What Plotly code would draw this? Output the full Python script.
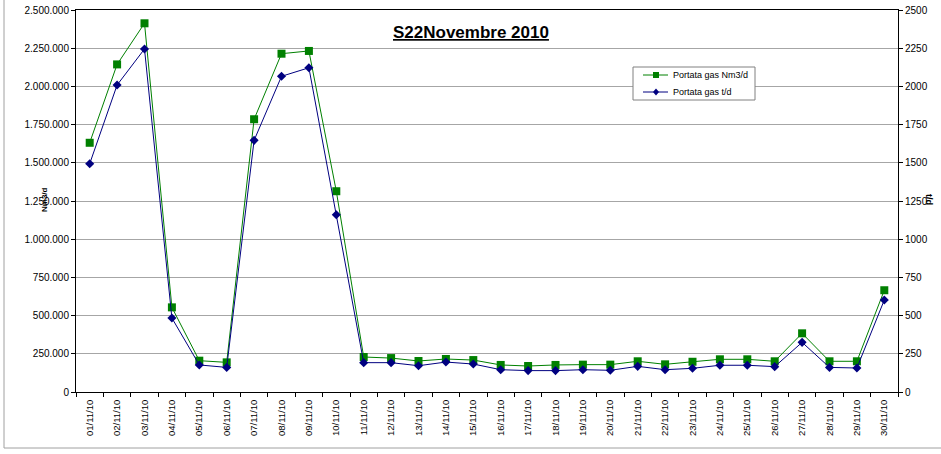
import plotly.graph_objects as go

dates = [f"{d:02d}/11/10" for d in range(1, 31)]

portata_nm3 = [1631000, 2144000, 2413000, 554000, 205000, 194000, 1785000, 2214000, 2232000, 1314000,
               229000, 222000, 203000, 216000, 209000, 177000, 170000, 177000, 179000, 179000,
               201000, 181000, 198000, 214000, 214000, 201000, 384000, 201000, 201000, 666000]

portata_td = [1494, 2009, 2245, 484, 177, 161, 1647, 2066, 2122, 1160,
              192, 192, 172, 196, 183, 146, 140, 140, 146, 142,
              168, 146, 155, 175, 175, 166, 325, 161, 157, 602]

left_ticks = [0, 250000, 500000, 750000, 1000000, 1250000, 1500000, 1750000, 2000000, 2250000, 2500000]
right_ticks = [0, 250, 500, 750, 1000, 1250, 1500, 1750, 2000, 2250, 2500]

series_names = ["Portata gas Nm3/d", "Portata gas t/d"]
series_colors = ["#008000", "#000080"]

FONT = "Liberation Sans, Arial, sans-serif"
W, H = 941, 454
L, R, T, B = 76, 43, 10, 62
pw, ph = W - L - R, H - T - B

def px_x(p):
    return (p - L) / pw

def px_y(p):
    return (H - B - p) / ph

fig = go.Figure()
fig.add_trace(go.Scatter(
    x=dates, y=portata_nm3, name=series_names[0], mode="lines+markers",
    line=dict(color=series_colors[0], width=1),
    marker=dict(symbol="square", size=8, color=series_colors[0]),
))
fig.add_trace(go.Scatter(
    x=dates, y=portata_td, name=series_names[1], mode="lines+markers", yaxis="y2",
    line=dict(color=series_colors[1], width=1),
    marker=dict(symbol="diamond", size=7, color=series_colors[1]),
))

# legend drawn as a box (Excel-like compact legend)
lg_x0, lg_x1, lg_y0, lg_y1 = 633, 755, 67, 100
item_y = [75, 92]
shapes = [
    dict(type="rect", xref="paper", yref="paper", layer="below",
         x0=px_x(4), x1=px_x(950), y0=px_y(448), y1=px_y(-5),
         line=dict(color="#a0a0a0", width=1), fillcolor="rgba(0,0,0,0)"),
    dict(type="rect", xref="paper", yref="paper", layer="above",
         x0=px_x(lg_x0), x1=px_x(lg_x1), y0=px_y(lg_y1), y1=px_y(lg_y0),
         line=dict(color="#808080", width=1), fillcolor="white"),
]
annotations = []
for i, (nm, col) in enumerate(zip(series_names, series_colors)):
    yy = item_y[i]
    shapes.append(dict(type="line", xref="paper", yref="paper", layer="above",
                       x0=px_x(643), x1=px_x(668), y0=px_y(yy), y1=px_y(yy),
                       line=dict(color=col, width=1)))
    if i == 0:
        shapes.append(dict(type="rect", xref="paper", yref="paper", layer="above",
                           x0=px_x(653), x1=px_x(659), y0=px_y(yy + 3), y1=px_y(yy - 3),
                           line=dict(color=col, width=0), fillcolor=col))
    else:
        cx = 656
        shapes.append(dict(type="path", xref="paper", yref="paper", layer="above",
                           path=f"M {px_x(cx)} {px_y(yy-3.5)} L {px_x(cx+3)} {px_y(yy)} "
                                f"L {px_x(cx)} {px_y(yy+3.5)} L {px_x(cx-3)} {px_y(yy)} Z",
                           line=dict(color=col, width=0), fillcolor=col))
    annotations.append(dict(text=nm, xref="paper", yref="paper",
                            x=px_x(671), y=px_y(yy), xanchor="left", yanchor="middle",
                            showarrow=False, font=dict(family=FONT, size=9, color="#000000")))

annotations += [
    dict(text="<b><u>S22Novembre 2010</u></b>", xref="paper", yref="paper",
         x=px_x(471), y=px_y(32), xanchor="center", yanchor="middle", showarrow=False,
         font=dict(family=FONT, size=17, color="#000000")),
    dict(text="<b>Nm3/d</b>", xref="paper", yref="paper",
         x=px_x(44), y=px_y(200), xanchor="center", yanchor="middle", showarrow=False,
         textangle=-90, font=dict(family=FONT, size=8, color="#000000")),
    dict(text="<b>t/d</b>", xref="paper", yref="paper",
         x=px_x(929), y=px_y(200), xanchor="center", yanchor="middle", showarrow=False,
         textangle=90, font=dict(family=FONT, size=9, color="#000000")),
]

fig.update_layout(
    width=W, height=H,
    margin=dict(l=L, r=R, t=T, b=B, autoexpand=False),
    paper_bgcolor="white", plot_bgcolor="white",
    separators=",.",
    font=dict(family=FONT, size=10, color="#000000"),
    showlegend=False,
    xaxis=dict(
        type="category", range=[-0.5, 29.5], automargin=False,
        tickangle=-90, tickfont=dict(family=FONT, size=9.5), ticklabelstandoff=3,
        ticks="outside", ticklen=4, tickcolor="#000000", tickson="boundaries",
        showline=True, linecolor="#000000", linewidth=1, mirror=True,
        showgrid=False, zeroline=False,
    ),
    yaxis=dict(
        range=[0, 2500000], tickvals=left_ticks, tickformat=",d", automargin=False,
        tickfont=dict(family=FONT, size=10),
        ticks="outside", ticklen=4, tickcolor="#000000",
        showline=True, linecolor="#000000", linewidth=1,
        showgrid=True, gridcolor="#a6a6a6", gridwidth=1, zeroline=False,
    ),
    yaxis2=dict(
        overlaying="y", side="right", automargin=False,
        range=[0, 2500], tickvals=right_ticks, tickformat="d",
        tickfont=dict(family=FONT, size=10),
        ticks="outside", ticklen=4, tickcolor="#000000",
        showline=True, linecolor="#000000", linewidth=1,
        showgrid=False, zeroline=False,
    ),
    annotations=annotations,
    shapes=shapes,
)

fig.write_html("out.html", config={"displayModeBar": False},
               post_script="document.body.style.margin='0';document.body.style.padding='0';")
